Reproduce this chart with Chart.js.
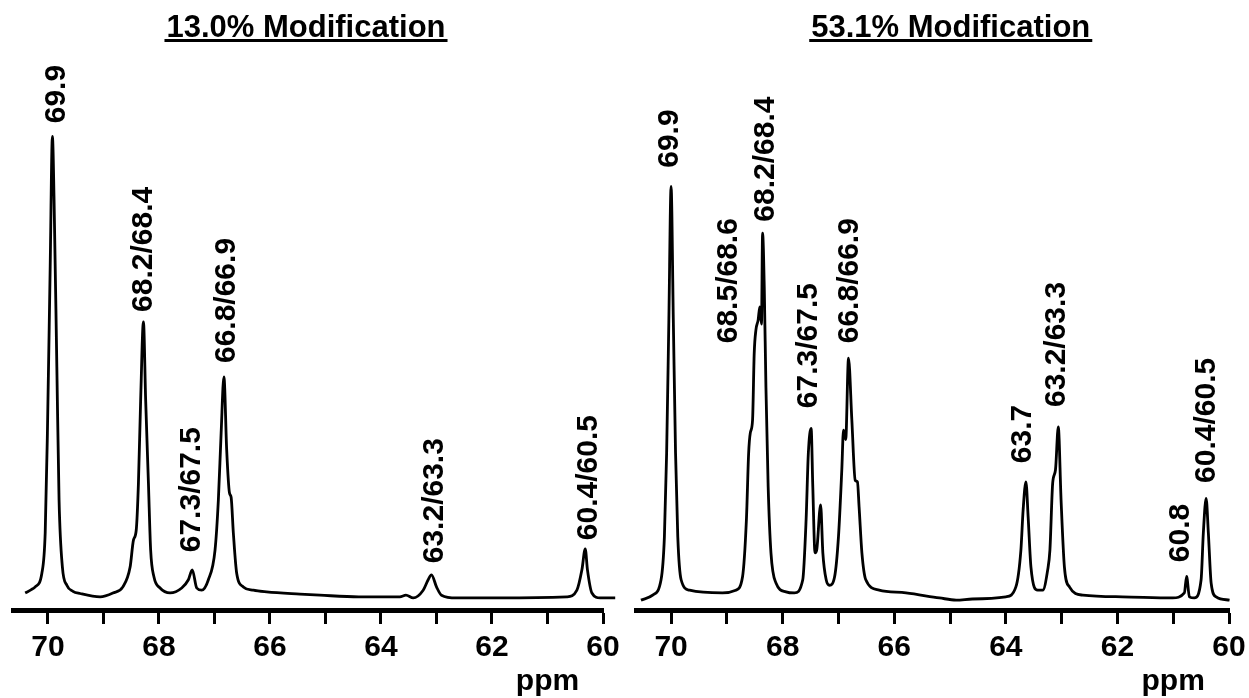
<!DOCTYPE html>
<html><head><meta charset="utf-8">
<script src="https://cdn.jsdelivr.net/npm/chart.js@4/dist/chart.umd.min.js"></script>
<style>
html,body{margin:0;padding:0;background:#fff;}
#wrap{position:relative;width:1249px;height:698px;overflow:hidden;}
.pane{position:absolute;top:0;height:698px;}
#left{left:0;width:625px;}
#right{left:625px;width:624px;}
</style></head><body>
<div id="wrap">
<div class="pane" id="left"><canvas id="cL" width="625" height="698"></canvas></div>
<div class="pane" id="right"><canvas id="cR" width="624" height="698"></canvas></div>
</div>
<script>
// ---- data ----
const titles = ['13.0% Modification', '53.1% Modification'];
const axisUnit = 'ppm';
const tickValues = [60, 61, 62, 63, 64, 65, 66, 67, 68, 69, 70];

// left spectrum (13.0 %)
const leftPpm = [70.41,70.30,70.23,70.11,70.05,70.01,69.96,69.92,69.89,69.84,69.80,69.74,69.66,69.55,69.42,69.06,68.83,68.65,68.52,68.46,68.41,68.37,68.33,68.28,68.24,68.19,68.15,68.09,67.98,67.80,67.59,67.47,67.40,67.32,67.23,67.11,66.99,66.93,66.88,66.83,66.78,66.73,66.70,66.66,66.60,66.48,66.30,66.06,65.46,65.10,64.40,63.66,63.55,63.42,63.24,63.15,63.09,63.00,62.91,62.64,61.86,60.65,60.47,60.38,60.32,60.28,60.20,60.05,59.78];
const leftInt = [3.1,3.7,4.2,6.7,14.0,32.2,62.4,86.1,74.5,44.2,20.0,7.8,4.5,3.4,3.0,2.4,3.1,4.2,7.8,12.7,14.5,23.1,38.2,52.4,38.2,23.1,10.9,6.0,4.0,3.1,4.0,5.5,7.3,4.0,3.6,5.5,10.9,20.0,32.2,42.4,29.1,21.3,20.5,14.0,6.7,4.2,3.6,3.3,2.9,2.7,2.4,2.4,2.7,2.2,3.6,5.5,6.4,4.2,2.7,2.2,2.2,2.4,3.6,7.3,11.1,7.3,3.1,2.2,2.2];
const leftLabels = ['69.9','68.2/68.4','67.3/67.5','66.8/66.9','63.2/63.3','60.4/60.5'];
const leftLabelPpm = [69.84,68.27,67.41,66.78,63.03,60.26];
const leftLabelBase = [88.5,54.2,10.5,44.9,8.5,12.7];

// right spectrum (53.1 %)
const rightPpm = [70.54,70.33,70.18,70.12,70.08,70.04,70.00,69.96,69.92,69.88,69.82,69.67,69.08,68.84,68.72,68.65,68.61,68.58,68.54,68.51,68.48,68.44,68.41,68.38,68.36,68.33,68.30,68.26,68.21,68.12,67.94,67.79,67.64,67.58,67.54,67.49,67.46,67.42,67.39,67.32,67.28,67.22,67.16,67.07,67.00,66.94,66.91,66.87,66.82,66.76,66.70,66.66,66.63,66.58,66.51,66.27,65.79,65.19,64.89,64.60,64.00,63.82,63.73,63.69,63.64,63.60,63.55,63.43,63.34,63.25,63.21,63.16,63.11,63.06,63.01,62.95,62.86,62.62,61.91,61.01,60.80,60.76,60.71,60.62,60.50,60.46,60.41,60.37,60.32,60.23,59.99];
const rightInt = [1.8,2.7,5.5,13.3,28.5,52.7,77.0,52.7,28.5,13.3,5.5,3.6,3.1,3.6,6.0,16.4,28.5,32.2,34.5,46.7,50.9,52.7,55.1,52.0,68.5,58.7,40.5,22.4,10.4,4.9,3.3,3.1,5.5,16.4,28.5,33.0,22.4,10.4,10.9,19.1,10.4,5.5,4.5,6.0,13.3,25.5,32.7,31.0,45.8,34.5,23.6,23.3,18.7,10.4,5.5,3.6,3.1,2.2,1.8,2.0,2.4,4.2,10.9,18.2,23.3,16.9,7.8,3.6,3.6,7.3,10.9,23.1,25.5,33.3,20.0,7.8,4.2,2.7,2.4,2.2,3.1,6.1,2.4,2.2,5.5,14.0,20.3,14.0,4.9,2.4,1.8];
const rightLabels = ['69.9','68.5/68.6','68.2/68.4','67.3/67.5','66.8/66.9','63.7','63.2/63.3','60.8','60.4/60.5'];
const rightLabelPpm = [70.02,68.97,68.31,67.54,66.80,63.69,63.09,60.87,60.40];
const rightLabelBase = [80.4,48.5,70.6,36.7,48.5,26.7,36.9,8.7,23.1];

// ---- drawing ----
const FONT = '"Liberation Sans", Arial, Helvetica, sans-serif';

const annot = {
  id: 'annot',
  afterDraw(chart, args, o) {
    const ctx = chart.ctx, xs = chart.scales.x, ys = chart.scales.y, ca = chart.chartArea;
    ctx.save();
    ctx.fillStyle = '#000';
    ctx.font = 'bold 31px ' + FONT;
    ctx.textAlign = 'center';
    ctx.textBaseline = 'alphabetic';
    const cx = (ca.left + ca.right) / 2 + o.titleShift;
    ctx.fillText(o.title, cx, 37);
    const w = ctx.measureText(o.title).width;
    ctx.fillRect(cx - w / 2 - 2, 39, w + 4, 3);
    ctx.font = 'bold 30px ' + FONT;
    ctx.fillText(axisUnit, xs.getPixelForValue(61), 690);
    ctx.textAlign = 'left';
    ctx.textBaseline = 'middle';
    o.labels.forEach((t, i) => {
      const x = xs.getPixelForValue(o.labelPpm[i]);
      const y = ys.getPixelForValue(o.labelBase[i]);
      ctx.save();
      ctx.translate(x, y);
      ctx.rotate(-Math.PI / 2);
      ctx.fillText(t, 0, 0);
      ctx.restore();
    });
    ctx.restore();
  }
};

function makeChart(id, ppm, inten, xMax, pad, annotOpts) {
  return new Chart(document.getElementById(id), {
    type: 'scatter',
    data: { datasets: [{
      data: ppm.map((p, i) => ({ x: p, y: inten[i] })),
      showLine: true, pointRadius: 0, borderColor: '#000', borderWidth: 2.8,
      cubicInterpolationMode: 'monotone', borderJoinStyle: 'round',
      clip: false, fill: false
    }]},
    options: {
      responsive: false, animation: false,
      layout: { padding: pad },
      plugins: { legend: { display: false }, tooltip: { enabled: false }, annot: annotOpts },
      scales: {
        x: {
          type: 'linear', reverse: true, min: 60, max: xMax,
          afterBuildTicks: s => { s.ticks = tickValues.map(v => ({ value: v })); },
          afterFit: s => { s.height = 88; },
          border: { display: true, width: 5, color: '#000' },
          grid: { display: true, drawOnChartArea: false, drawTicks: true, tickLength: 14, tickWidth: 3, tickColor: '#000' },
          ticks: {
            autoSkip: false, maxRotation: 0, padding: 6, color: '#000',
            font: { family: FONT, size: 30, weight: 'bold' },
            callback: v => (v % 2 === 0 ? String(v) : '')
          }
        },
        y: { display: false, min: 0, max: 100 }
      }
    },
    plugins: [annot]
  });
}

makeChart('cL', leftPpm, leftInt, 70.63, { left: 13, right: 22, top: 60, bottom: 0 },
  { title: titles[0], titleShift: -2, labels: leftLabels, labelPpm: leftLabelPpm, labelBase: leftLabelBase });
makeChart('cR', rightPpm, rightInt, 70.62, { left: 11.5, right: 20, top: 60, bottom: 0 },
  { title: titles[1], titleShift: 18, labels: rightLabels, labelPpm: rightLabelPpm, labelBase: rightLabelBase });
</script>
</body></html>
